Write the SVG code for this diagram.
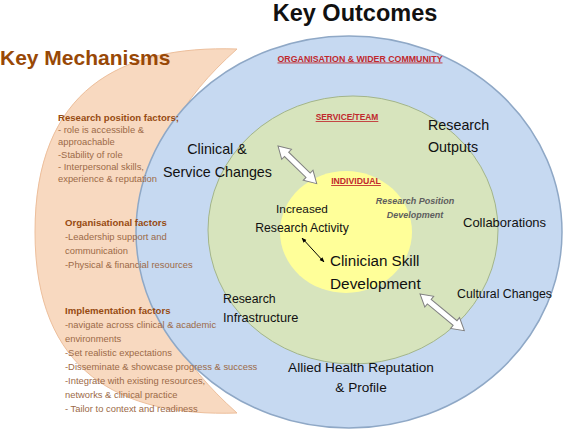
<svg xmlns="http://www.w3.org/2000/svg" width="565" height="430" viewBox="0 0 565 430">
<defs>
<style>
.lbl{font-family:"Liberation Sans",Arial,sans-serif;fill:#111;}
.head{font-family:"Liberation Sans",Arial,sans-serif;font-weight:bold;fill:#974B12;font-size:9.6px;}
.item{font-family:"Liberation Sans",Arial,sans-serif;fill:#9C6A48;font-size:9.4px;}
.red{font-family:"Liberation Sans",Arial,sans-serif;font-weight:bold;fill:#C0282D;text-decoration:underline;text-anchor:middle;}
.barrow{fill:#ffffff;stroke:#808080;stroke-width:1;}
</style>
<marker id="ah" viewBox="0 0 10 10" refX="9" refY="5" markerWidth="5" markerHeight="5" orient="auto-start-reverse">
<path d="M0,1 L10,5 L0,9 z" fill="#000"/>
</marker>
</defs>
<rect width="565" height="430" fill="#ffffff"/>

<g id="mechanisms">
<path d="M237,49 C120,45 35,90 35,232 C35,372 120,417 237,413 C180,362 150,312 150,232 C150,150 180,100 237,49 Z" fill="#F8D9C0" stroke="#EDBF9C" stroke-width="1"/>
</g>

<g id="organisation">
<ellipse cx="349" cy="232" rx="213" ry="196" fill="#C6D9F1" stroke="#8FA8C6" stroke-width="1.5"/>
</g>
<g id="service">
<ellipse cx="353" cy="230" rx="145" ry="134" fill="#D7E4BD" stroke="#A3B58A" stroke-width="1"/>
</g>
<g id="individual">
<ellipse cx="346" cy="232" rx="66" ry="61" fill="#FFFF99"/>
</g>

<g id="titles">
<text class="lbl" x="355" y="21" font-size="23.5" font-weight="bold" text-anchor="middle">Key Outcomes</text>
<text x="0" y="65" font-family="Liberation Sans,Arial,sans-serif" font-size="21" font-weight="bold" fill="#984806">Key Mechanisms</text>
</g>

<g id="mechanism-text">
<text class="head" x="58" y="121">Research position factors;</text>
<text class="item" x="58" y="133">- role is accessible &amp;</text>
<text class="item" x="58" y="145">approachable</text>
<text class="item" x="58" y="157.5">-Stability of role</text>
<text class="item" x="58" y="169.5">- Interpersonal skills,</text>
<text class="item" x="58" y="181.5">experience &amp; reputation</text>

<text class="head" x="65" y="226">Organisational factors</text>
<text class="item" x="65" y="240">-Leadership support and</text>
<text class="item" x="65" y="254">communication</text>
<text class="item" x="65" y="268">-Physical &amp; financial resources</text>

<text class="head" x="65" y="314">Implementation factors</text>
<text class="item" x="65" y="328">-navigate across clinical  &amp; academic</text>
<text class="item" x="65" y="342">environments</text>
<text class="item" x="65" y="356">-Set realistic expectations</text>
<text class="item" x="65" y="370">-Disseminate &amp; showcase progress &amp; success</text>
<text class="item" x="65" y="384">-Integrate with existing resources,</text>
<text class="item" x="65" y="398">networks &amp; clinical  practice</text>
<text class="item" x="65" y="412">- Tailor to context and readiness</text>
</g>

<g id="level-labels">
<text class="red" x="360" y="61.5" font-size="8.8">ORGANISATION &amp; WIDER COMMUNITY</text>
<text class="red" x="347" y="120" font-size="8.4">SERVICE/TEAM</text>
<text class="red" x="356" y="184" font-size="8.7">INDIVIDUAL</text>
</g>

<g id="outcomes">
<text class="lbl" x="217" y="154" font-size="14.3" text-anchor="middle">Clinical &amp;</text>
<text class="lbl" x="217.5" y="177" font-size="14.3" text-anchor="middle">Service Changes</text>
<text class="lbl" x="428" y="130" font-size="14.3">Research</text>
<text class="lbl" x="428" y="152" font-size="14.3">Outputs</text>
<text class="lbl" x="463" y="227" font-size="13">Collaborations</text>
<text class="lbl" x="457" y="298" font-size="12.3">Cultural Changes</text>
<text class="lbl" x="223" y="303" font-size="12.3">Research</text>
<text class="lbl" x="223" y="322" font-size="12.8">Infrastructure</text>
<text class="lbl" x="330" y="266" font-size="15.2">Clinician Skill</text>
<text class="lbl" x="330" y="288.5" font-size="15.4">Development</text>
<text class="lbl" x="302" y="213" font-size="11.8" text-anchor="middle">Increased</text>
<text class="lbl" x="302" y="232" font-size="12.2" text-anchor="middle">Research Activity</text>
<text class="lbl" x="361" y="372" font-size="13.6" text-anchor="middle">Allied Health Reputation</text>
<text class="lbl" x="361" y="392" font-size="13.6" text-anchor="middle">&amp; Profile</text>
<text x="415" y="204" font-family="Liberation Sans,Arial,sans-serif" font-size="9" font-weight="bold" font-style="italic" fill="#5E5E5E" text-anchor="middle">Research Position</text>
<text x="415" y="217.5" font-family="Liberation Sans,Arial,sans-serif" font-size="9" font-weight="bold" font-style="italic" fill="#5E5E5E" text-anchor="middle">Development</text>
</g>

<g id="connectors">
<polygon class="barrow" transform="translate(278,146) rotate(44.2)" points="0,0 12,-7 12,-3 42,-3 42,-7 54,0 42,7 42,3 12,3 12,7"/>
<polygon class="barrow" transform="translate(420,294) rotate(39.6)" points="0,0 12,-7 12,-3 45.5,-3 45.5,-7 57.5,0 45.5,7 45.5,3 12,3 12,7"/>
<line x1="302" y1="238" x2="324" y2="262" stroke="#000" stroke-width="1" marker-start="url(#ah)" marker-end="url(#ah)"/>
</g>
</svg>
